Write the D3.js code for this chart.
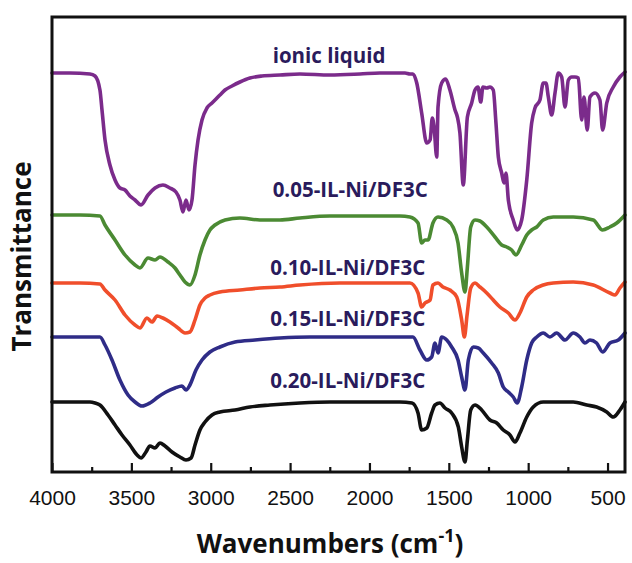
<!DOCTYPE html>
<html><head><meta charset="utf-8">
<script src="https://cdn.jsdelivr.net/npm/d3@7/dist/d3.min.js"></script>
<style>body{margin:0;background:#fff}svg{display:block}</style>
</head><body>
<svg id="chart" width="632" height="563"></svg>
<script>
// Wavenumber (cm-1) / transmittance (a.u., stacked offsets)
const ionicLiquid = [[4000,399],[3887,399],[3761,398],[3729,396],[3698,382],[3685,362],[3666,332],[3635,307],[3603,292],[3572,284],[3540,282],[3509,276],[3477,272],[3439,267],[3395,277],[3351,284],[3301,287],[3257,284],[3219,280],[3194,272],[3175,260],[3156,272],[3137,262],[3118,272],[3099,307],[3080,332],[3055,352],[3024,364],[2992,369],[2973,372],[2942,377],[2910,382],[2866,386],[2816,390],[2753,394],[2677,396],[2564,397],[2438,398],[2249,397],[2060,398],[1934,399],[1776,399],[1745,398],[1726,398],[1702,389],[1671,359],[1639,329],[1618,332],[1604,354],[1593,345],[1576,315],[1568,365],[1545,389],[1520,393],[1493,382],[1461,362],[1446,355],[1430,339],[1409,287],[1383,355],[1356,369],[1335,382],[1316,385],[1299,370],[1285,385],[1261,384],[1241,385],[1220,382],[1203,349],[1188,315],[1167,299],[1152,289],[1140,299],[1125,272],[1094,252],[1069,242],[1041,252],[1009,292],[978,349],[957,364],[926,372],[905,389],[888,389],[873,375],[852,357],[831,379],[810,399],[789,395],[768,365],[747,392],[726,395],[705,395],[684,394],[663,352],[648,375],[628,342],[611,375],[579,379],[548,372],[531,342],[505,369],[464,385],[422,395],[390,400]];
const il005 = [[4000,257],[3824,257],[3698,256],[3666,247],[3603,232],[3540,217],[3477,207],[3446,204],[3395,214],[3351,212],[3320,215],[3269,210],[3225,204],[3194,197],[3162,190],[3131,187],[3099,197],[3068,217],[3036,232],[3005,242],[2973,247],[2910,252],[2816,254],[2690,252],[2564,252],[2438,254],[2249,256],[2060,256],[1808,256],[1745,255],[1694,249],[1671,229],[1650,232],[1631,232],[1600,249],[1568,255],[1513,252],[1474,245],[1442,229],[1419,199],[1398,180],[1383,205],[1362,245],[1335,252],[1304,251],[1261,245],[1209,235],[1167,227],[1135,225],[1104,222],[1077,217],[1041,227],[1009,237],[978,242],[946,245],[905,252],[842,255],[716,255],[590,252],[531,242],[485,245],[442,249],[390,257]];
const il010 = [[4000,189],[3824,189],[3698,188],[3666,182],[3603,172],[3540,157],[3477,147],[3446,144],[3402,154],[3370,150],[3338,156],[3301,154],[3257,150],[3206,144],[3162,139],[3131,140],[3099,152],[3068,167],[3036,174],[3005,177],[2942,180],[2816,182],[2690,184],[2564,185],[2438,187],[2186,189],[1934,189],[1745,189],[1694,179],[1671,165],[1650,169],[1618,172],[1600,187],[1568,189],[1537,185],[1493,182],[1450,175],[1419,152],[1402,135],[1385,157],[1362,184],[1335,189],[1304,185],[1261,179],[1220,172],[1178,165],[1125,159],[1083,152],[1052,159],[1009,175],[968,182],[905,187],[842,189],[716,190],[590,187],[485,179],[453,177],[422,184],[390,190]];
const il015 = [[4000,135],[3824,135],[3698,135],[3666,127],[3622,112],[3572,92],[3521,77],[3477,70],[3433,66],[3383,69],[3332,75],[3282,80],[3225,84],[3181,86],[3156,82],[3131,87],[3093,102],[3055,112],[3005,120],[2942,125],[2847,130],[2721,132],[2564,134],[2375,135],[2123,135],[1934,135],[1745,135],[1726,135],[1682,122],[1639,112],[1608,115],[1587,129],[1568,119],[1545,135],[1513,132],[1482,125],[1442,112],[1419,95],[1398,82],[1377,112],[1346,125],[1314,124],[1283,119],[1230,109],[1188,99],[1157,85],[1125,80],[1094,75],[1069,69],[1041,85],[1009,112],[978,129],[946,135],[905,139],[863,135],[821,139],[768,132],[716,139],[674,135],[642,129],[611,132],[569,129],[531,120],[485,129],[432,132],[390,139]];
const il020 = [[4000,70],[3761,70],[3729,69],[3698,67],[3647,57],[3603,47],[3559,37],[3509,27],[3464,17],[3439,14],[3408,20],[3383,26],[3351,24],[3320,29],[3288,26],[3244,20],[3194,15],[3156,12],[3124,14],[3099,27],[3068,42],[3036,50],[2992,57],[2942,60],[2847,62],[2753,65],[2627,67],[2438,69],[2249,70],[2060,70],[1808,70],[1732,69],[1694,59],[1671,42],[1639,44],[1608,59],[1587,67],[1556,69],[1524,64],[1482,59],[1440,45],[1419,25],[1398,10],[1383,32],[1362,62],[1335,67],[1293,62],[1241,52],[1198,49],[1157,42],[1115,37],[1083,30],[1052,39],[1009,55],[968,65],[905,70],[716,70],[631,67],[569,65],[505,60],[464,55],[422,62],[390,70]];

const seriesNames = ["ionic liquid","0.05-IL-Ni/DF3C","0.10-IL-Ni/DF3C","0.15-IL-Ni/DF3C","0.20-IL-Ni/DF3C"];
const seriesColors = ["#7b2b8b","#4b8a33","#f04e2b","#2f2c87","#111111"];
const seriesData = [ionicLiquid, il005, il010, il015, il020];
const majorTicks = [4000,3500,3000,2500,2000,1500,1000,500];
const minorTicks = [3750,3250,2750,2250,1750,1250,750];
// label anchor points [wavenumber, value]
const labelPos = [[2610,409],[2610,275],[2625,197],[2625,146],[2625,84]];

const svg = d3.select("#chart");
const L=52, R=625, T=17, B=472;
const x = d3.scaleLinear().domain([4000,390]).range([L,R]);
const y = d3.scaleLinear().domain([0,455]).range([B,T]);

const line = d3.line().x(d=>x(d[0])).y(d=>y(d[1])).curve(d3.curveMonotoneX);

svg.append("g").selectAll("path").data(seriesData).join("path")
  .attr("d", line).attr("fill","none")
  .attr("stroke",(d,i)=>seriesColors[i]).attr("stroke-width",3.6)
  .attr("stroke-linejoin","round").attr("stroke-linecap","round");

// frame
svg.append("rect").attr("x",L).attr("y",T).attr("width",R-L).attr("height",B-T)
  .attr("fill","none").attr("stroke","#111").attr("stroke-width",3);

// ticks (inward)
const ax = svg.append("g").attr("transform",`translate(0,${B})`)
  .call(d3.axisBottom(x).tickValues(majorTicks).tickSizeInner(-9).tickSizeOuter(0).tickFormat(d3.format("d")).tickPadding(18));
ax.select(".domain").remove();
ax.selectAll(".tick line").attr("stroke","#111").attr("stroke-width",2.2);
ax.selectAll(".tick text").attr("font-family","'Liberation Sans', Arial, sans-serif").attr("font-size",21).attr("fill","#111");
const axm = svg.append("g").attr("transform",`translate(0,${B})`)
  .call(d3.axisBottom(x).tickValues(minorTicks).tickSizeInner(-5).tickSizeOuter(0).tickFormat(""));
axm.select(".domain").remove();
axm.selectAll(".tick line").attr("stroke","#111").attr("stroke-width",2.2);

// series labels
svg.append("g").selectAll("text").data(seriesNames).join("text")
  .attr("x",(d,i)=>x(labelPos[i][0])).attr("y",(d,i)=>y(labelPos[i][1]))
  .attr("font-family","'Open Sans', sans-serif").attr("font-weight",700)
  .attr("font-size",20.5).attr("fill","#2a1b5c").text(d=>d);

// axis titles
const xt = svg.append("text").attr("x",330).attr("y",553).attr("text-anchor","middle")
  .attr("font-family","'Open Sans', sans-serif").attr("font-weight",700).attr("font-size",26).attr("fill","#111");
xt.append("tspan").text("Wavenumbers (cm");
xt.append("tspan").attr("dy",-11).attr("font-size",18).text("-1");
xt.append("tspan").attr("dy",11).text(")");

svg.append("text").attr("transform",`translate(31,${(T+B)/2+12}) rotate(-90)`).attr("text-anchor","middle")
  .attr("font-family","'Open Sans', sans-serif").attr("font-weight",700).attr("font-size",26).attr("fill","#111")
  .text("Transmittance");
</script>
</body></html>
